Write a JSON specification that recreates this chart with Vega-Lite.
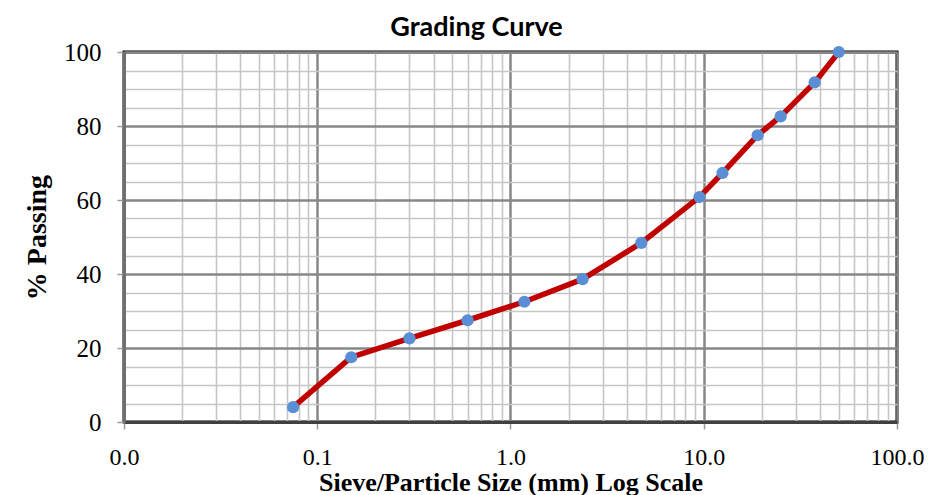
{
  "$schema": "https://vega.github.io/schema/vega-lite/v6.json",
  "width": 773,
  "height": 370,
  "autosize": {"type": "none"},
  "padding": {"left": 124, "top": 52, "right": 35, "bottom": 73},
  "background": "white",
  "title": {
    "text": "Grading Curve",
    "font": "Lato",
    "fontSize": 27,
    "fontWeight": "bold",
    "color": "#000000",
    "anchor": "middle",
    "dx": -34,
    "offset": -2
  },
  "data": {
    "values": [
      {"size": 0.075, "passing": 4.0},
      {"size": 0.15, "passing": 17.5},
      {"size": 0.3, "passing": 22.6},
      {"size": 0.6, "passing": 27.5},
      {"size": 1.18, "passing": 32.5},
      {"size": 2.36, "passing": 38.6},
      {"size": 4.75, "passing": 48.4},
      {"size": 9.5, "passing": 60.8},
      {"size": 12.5, "passing": 67.3},
      {"size": 19, "passing": 77.5},
      {"size": 25, "passing": 82.6},
      {"size": 37.5, "passing": 91.8},
      {"size": 50, "passing": 100}
    ]
  },
  "encoding": {
    "x": {
      "field": "size",
      "type": "quantitative",
      "scale": {"type": "log", "domain": [0.01, 100], "nice": false},
      "axis": {
        "title": "Sieve/Particle Size (mm) Log Scale",
        "values": [0.01, 0.02, 0.03, 0.04, 0.05, 0.06, 0.07, 0.08, 0.09,
                   0.1, 0.2, 0.3, 0.4, 0.5, 0.6, 0.7, 0.8, 0.9,
                   1, 2, 3, 4, 5, 6, 7, 8, 9,
                   10, 20, 30, 40, 50, 60, 70, 80, 90, 100],
        "labelExpr": "indexof([0.01, 0.1, 1, 10, 100], datum.value) >= 0 ? format(datum.value, '.1f') : ''",
        "labelFlush": false,
        "labelOverlap": false,
        "grid": true,
        "gridColor": {"condition": {"test": "indexof([0.01, 0.1, 1, 10, 100], datum.value) >= 0", "value": "#878787"}, "value": "#c6c6c6"},
        "gridWidth": {"condition": {"test": "indexof([0.01, 0.1, 1, 10, 100], datum.value) >= 0", "value": 2.5}, "value": 1.6},
        "tickOpacity": {"condition": {"test": "indexof([0.01, 0.1, 1, 10, 100], datum.value) >= 0", "value": 1}, "value": 0},
        "tickColor": "#9a9a9a",
        "tickWidth": 1.5,
        "tickSize": 7,
        "domainColor": "#404040",
        "domainWidth": 3,
        "labelFont": "Liberation Serif",
        "labelFontSize": 24,
        "labelColor": "#000000",
        "labelPadding": 16,
        "titleFont": "Liberation Serif",
        "titleFontSize": 26,
        "titleFontWeight": "bold",
        "titleColor": "#000000",
        "titlePadding": 0
      }
    },
    "y": {
      "field": "passing",
      "type": "quantitative",
      "scale": {"domain": [0, 100], "nice": false},
      "axis": {
        "title": "% Passing",
        "values": [0, 5, 10, 15, 20, 25, 30, 35, 40, 45, 50, 55, 60, 65, 70, 75, 80, 85, 90, 95, 100],
        "labelExpr": "datum.value % 20 === 0 ? format(datum.value, 'd') : ''",
        "labelFlush": false,
        "labelOverlap": false,
        "grid": true,
        "gridColor": {"condition": {"test": "datum.value % 20 === 0", "value": "#878787"}, "value": "#c6c6c6"},
        "gridWidth": {"condition": {"test": "datum.value % 20 === 0", "value": 2.5}, "value": 1.6},
        "tickOpacity": {"condition": {"test": "datum.value % 20 === 0", "value": 1}, "value": 0},
        "tickColor": "#9a9a9a",
        "tickWidth": 1.5,
        "tickSize": 7,
        "domainColor": "#6f6f6f",
        "domainWidth": 3,
        "labelFont": "Liberation Serif",
        "labelFontSize": 25,
        "labelColor": "#000000",
        "labelPadding": 16,
        "titleFont": "Liberation Serif",
        "titleFontSize": 28,
        "titleFontWeight": "bold",
        "titleColor": "#000000",
        "titlePadding": 12
      }
    }
  },
  "layer": [
    {
      "mark": {"type": "line", "color": "#c00000", "strokeWidth": 5.5, "clip": false}
    },
    {
      "mark": {"type": "point", "filled": true, "color": "#5a8fd6", "opacity": 1, "size": 150, "clip": false}
    }
  ],
  "config": {
    "view": {"stroke": "#000000", "strokeWidth": 3}
  }
}
